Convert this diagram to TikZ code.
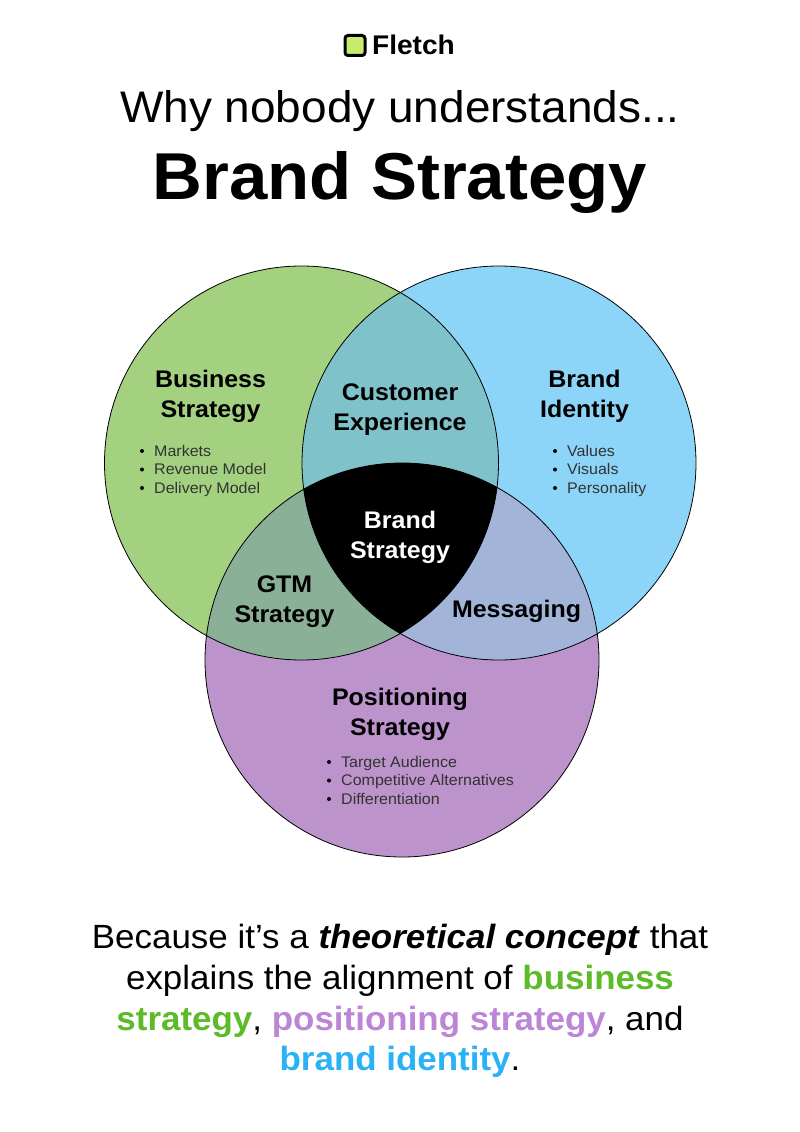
\documentclass[tikz,border=0pt]{standalone}
\usepackage{fontspec}
\setmainfont{Liberation Sans}[Scale=1.0,FakeStretch=1.04]
\definecolor{cgreen}{HTML}{A3D17F}
\definecolor{cblue}{HTML}{8CD5F8}
\definecolor{cpurple}{HTML}{BC94CB}
\definecolor{ccx}{HTML}{7FC2C9}
\definecolor{cgtm}{HTML}{8AB097}
\definecolor{cmsg}{HTML}{A2B5D9}
\definecolor{tgreen}{HTML}{5DBB2A}
\definecolor{tpurple}{HTML}{BD85D6}
\definecolor{tblue}{HTML}{29B2F5}
\definecolor{lime}{HTML}{C8EC6C}
\newcommand{\fsz}[1]{\fontsize{#1}{#1}\selectfont}
\tikzset{
  ringline/.style={draw=black,line width=0.8pt},
  head/.style={font=\fontsize{24}{30}\selectfont\bfseries,align=center,inner sep=0pt,text=black},
  items/.style={font=\fsz{15.4},anchor=base west,inner sep=0pt,text=black!80},
  dotitem/.style={circle,fill=black,inner sep=0pt,minimum size=4pt},
  closing/.style={font=\fsz{33.6},anchor=base,inner sep=0pt,text=black},
}
\begin{document}
\begin{tikzpicture}[x=1pt,y=-1pt]
\useasboundingbox (0,0) rectangle (800,1132);
\fill[white] (0,0) rectangle (800,1132);
\coordinate (L) at (301.5,463);
\coordinate (R) at (499,463);
\coordinate (B) at (402,660);
\def\rad{197}
\fill[cgreen] (L) circle (\rad);
\fill[cblue] (R) circle (\rad);
\fill[cpurple] (B) circle (\rad);
\begin{scope}\clip (L) circle (\rad); \fill[ccx] (R) circle (\rad);\end{scope}
\begin{scope}\clip (L) circle (\rad); \fill[cgtm] (B) circle (\rad);\end{scope}
\begin{scope}\clip (R) circle (\rad); \fill[cmsg] (B) circle (\rad);\end{scope}
\begin{scope}\clip (L) circle (\rad); \clip (R) circle (\rad); \fill[black] (B) circle (\rad);\end{scope}
\draw[ringline] (L) circle (\rad);
\draw[ringline] (R) circle (\rad);
\draw[ringline] (B) circle (\rad);
% logo
\node[draw=black,line width=3pt,fill=lime,rounded corners=3pt,minimum size=20pt,inner sep=0pt] (logo) at (355,45.5) {};
\node[font=\fsz{27}\bfseries,inner sep=0pt,anchor=base] (brandname) at (413.5,55) {Fletch};
% titles
\node[font=\fsz{44.2},inner sep=0pt,anchor=base] (t1) at (400,122) {Why nobody understands...};
\node[font=\fsz{66.3}\bfseries,inner sep=0pt,anchor=base] (t2) at (400,199) {Brand Strategy};
% labels
\node[head] (bs) at (210.5,396) {Business\\Strategy};
\node[head] (bi) at (584.5,396) {Brand\\Identity};
\node[head] (cx) at (400,410) {Customer\\Experience};
\node[head,text=white] (st) at (400,537) {Brand\\Strategy};
\node[head] (gtm) at (284.5,602) {GTM\\Strategy};
\node[head] (msg) at (516.5,611) {Messaging};
\node[head] (ps) at (400,714) {Positioning\\Strategy};
% lists
\node[dotitem] (d1) at (142,451) {}; \node[items] (i1) at (154,456) {Markets};
\node[dotitem] (d2) at (142,469.5) {}; \node[items] (i2) at (154,474.5) {Revenue Model};
\node[dotitem] (d3) at (142,488) {}; \node[items] (i3) at (154,493) {Delivery Model};
\node[dotitem] (d4) at (555,451) {}; \node[items] (i4) at (567,456) {Values};
\node[dotitem] (d5) at (555,469.5) {}; \node[items] (i5) at (567,474.5) {Visuals};
\node[dotitem] (d6) at (555,488) {}; \node[items] (i6) at (567,493) {Personality};
\node[dotitem] (d7) at (329,762) {}; \node[items] (i7) at (341,767) {Target Audience};
\node[dotitem] (d8) at (329,780.5) {}; \node[items] (i8) at (341,785.5) {Competitive Alternatives};
\node[dotitem] (d9) at (329,799) {}; \node[items] (i9) at (341,804) {Differentiation};
% closing
\node[closing] (c1) at (400,948.5) {Because it’s a \textbf{\textit{theoretical concept}} that};
\node[closing] (c2) at (400,989) {explains the alignment of \textbf{\textcolor{tgreen}{business}}};
\node[closing] (c3) at (400,1030) {\textbf{\textcolor{tgreen}{strategy}}, \textbf{\textcolor{tpurple}{positioning strategy}}, and};
\node[closing] (c4) at (400,1070.5) {\textbf{\textcolor{tblue}{brand identity}}.};
\end{tikzpicture}
\end{document}
